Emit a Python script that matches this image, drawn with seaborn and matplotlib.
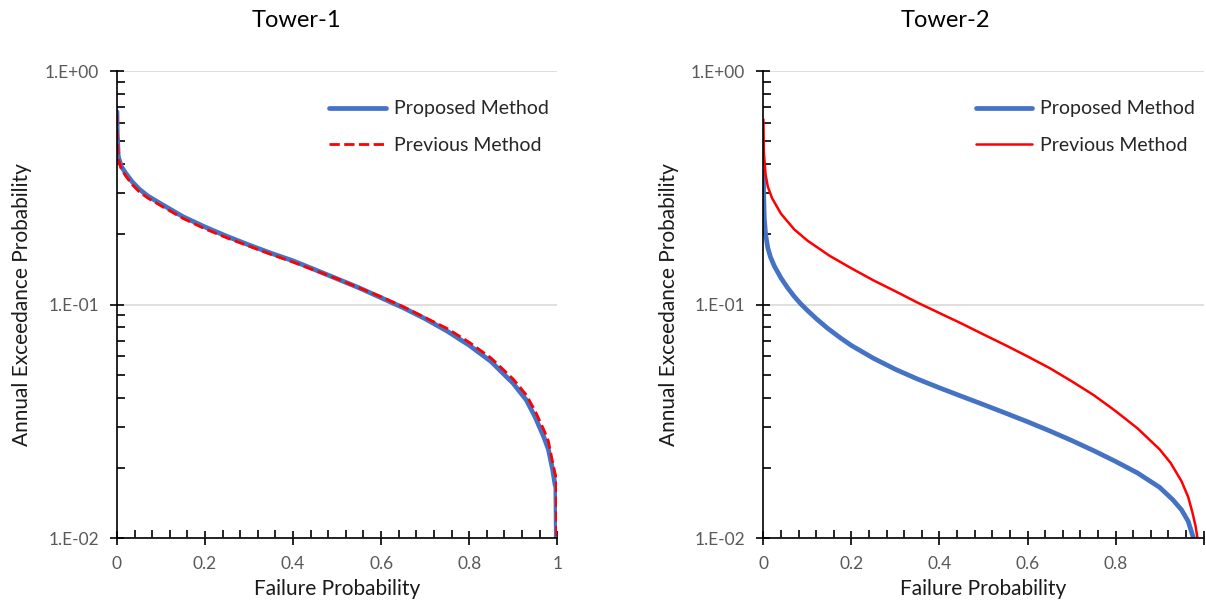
import numpy as np
import pandas as pd
import matplotlib
matplotlib.use("Agg")
import matplotlib.pyplot as plt
import matplotlib.ticker as mticker
from matplotlib.lines import Line2D
import seaborn as sns

# Tower-1 curves (failure probability vs annual exceedance probability)
t1_prop_x = [0, 0.0005, 0.003, 0.01, 0.02, 0.035, 0.05, 0.07, 0.1, 0.15, 0.2, 0.25, 0.3, 0.35,
             0.4, 0.45, 0.5, 0.55, 0.6, 0.65, 0.7, 0.75, 0.8, 0.85, 0.9, 0.93, 0.95, 0.97,
             0.98, 0.99, 0.995, 0.997, 0.998]
t1_prop_y = [0.67, 0.55, 0.43, 0.39, 0.365, 0.335, 0.313, 0.292, 0.27, 0.238, 0.215, 0.196, 0.18,
             0.166, 0.154, 0.141, 0.129, 0.118, 0.107, 0.097, 0.087, 0.077, 0.067, 0.057, 0.046,
             0.039, 0.033, 0.027, 0.024, 0.0195, 0.017, 0.0165, 0.01]
t1_prev_x = [0, 0.0005, 0.003, 0.01, 0.02, 0.035, 0.05, 0.07, 0.1, 0.15, 0.2, 0.25, 0.3, 0.35,
             0.4, 0.45, 0.5, 0.55, 0.6, 0.65, 0.7, 0.75, 0.8, 0.85, 0.9, 0.93, 0.95, 0.97,
             0.98, 0.99, 0.995, 0.998, 0.999]
t1_prev_y = [0.65, 0.53, 0.42, 0.38, 0.355, 0.326, 0.305, 0.286, 0.265, 0.234, 0.211, 0.193, 0.178,
             0.164, 0.152, 0.14, 0.129, 0.118, 0.108, 0.098, 0.088, 0.079, 0.069, 0.059, 0.048,
             0.041, 0.035, 0.029, 0.026, 0.021, 0.019, 0.018, 0.01]

# Tower-2 curves
t2_prop_x = [0, 0.0005, 0.002, 0.005, 0.01, 0.016, 0.025, 0.04, 0.055, 0.07, 0.085, 0.1, 0.12,
             0.145, 0.175, 0.2, 0.25, 0.3, 0.35, 0.4, 0.45, 0.5, 0.55, 0.6, 0.65, 0.7, 0.75,
             0.8, 0.85, 0.9, 0.93, 0.95, 0.965, 0.977]
t2_prop_y = [0.37, 0.3, 0.235, 0.2, 0.175, 0.16, 0.146, 0.13, 0.118, 0.1084, 0.1007, 0.0944,
             0.0871, 0.0794, 0.072, 0.0668, 0.0589, 0.0528, 0.048, 0.044, 0.0405, 0.0373, 0.0343,
             0.0315, 0.0288, 0.0262, 0.0237, 0.0213, 0.019, 0.0165, 0.0146, 0.0132, 0.0118, 0.01]
t2_prev_x = [0, 0.001, 0.005, 0.01, 0.02, 0.04, 0.07, 0.1, 0.15, 0.2, 0.25, 0.3, 0.35, 0.4,
             0.45, 0.5, 0.55, 0.6, 0.65, 0.7, 0.75, 0.8, 0.85, 0.9, 0.925, 0.95, 0.965, 0.975,
             0.982, 0.986]
t2_prev_y = [0.62, 0.45, 0.36, 0.32, 0.285, 0.245, 0.21, 0.188, 0.162, 0.143, 0.127, 0.114, 0.102,
             0.092, 0.083, 0.0745, 0.067, 0.06, 0.0535, 0.047, 0.041, 0.035, 0.0295, 0.024, 0.021,
             0.0175, 0.015, 0.0128, 0.0112, 0.01]

x_ticks = [0, 0.2, 0.4, 0.6, 0.8, 1.0]
y_ticks = [0.01, 0.1, 1.0]

blue = "#4472C4"
red = "#FF0000"

sns.set_style("white")
plt.rcParams['font.family'] = ['Lato', 'DejaVu Sans']

fig = plt.figure(figsize=(12.06, 6.08), dpi=100)
ax1 = fig.add_axes([0.097, 0.115, 0.365, 0.768])
ax2 = fig.add_axes([0.633, 0.115, 0.365, 0.768])

panels = [
    (ax1, "Tower-1", 0.407, (t1_prop_x, t1_prop_y), (t1_prev_x, t1_prev_y), "--", 2.0),
    (ax2, "Tower-2", 0.414, (t2_prop_x, t2_prop_y), (t2_prev_x, t2_prev_y), "-", 1.8),
]

for ax, title, title_x, prop, prev, prev_ls, prev_lw in panels:
    sns.lineplot(x=prop[0], y=prop[1], ax=ax, color=blue, linewidth=3.4, sort=False)
    sns.lineplot(x=prev[0], y=prev[1], ax=ax, color=red, linewidth=prev_lw,
                 linestyle=prev_ls, sort=False)

    ax.set_yscale("log")
    ax.set_ylim(0.01, 1.0)
    ax.set_xlim(0, 1.0)
    ax.set_xticks(x_ticks)
    ax.xaxis.set_major_formatter(mticker.FuncFormatter(lambda v, p: f"{v:g}"))
    ax.xaxis.set_minor_locator(mticker.MultipleLocator(0.04))
    ax.set_yticks(y_ticks)
    ax.yaxis.set_major_formatter(
        mticker.FuncFormatter(lambda v, p: f"1.E{int(round(np.log10(v))):+03d}"))
    ax.yaxis.set_minor_locator(mticker.LogLocator(base=10, subs=np.arange(2, 10)))
    ax.yaxis.set_minor_formatter(mticker.NullFormatter())

    ax.tick_params(which="major", direction="inout", length=10, width=1.2, colors="black",
                   labelcolor="#595959", labelsize=12.5, pad=8)
    ax.tick_params(which="minor", direction="in", length=6, width=1.2, colors="black")
    ax.tick_params(axis="x", which="both", bottom=True)
    ax.tick_params(axis="y", which="both", left=True)

    ax.grid(axis="y", which="major", color="#d9d9d9", linewidth=1.2)
    ax.set_axisbelow(True)
    for s in ["top", "right"]:
        ax.spines[s].set_visible(False)
    for s in ["left", "bottom"]:
        ax.spines[s].set_color("black")
        ax.spines[s].set_linewidth(1.2)

    ax.text(title_x, 1.109, title, transform=ax.transAxes, ha="center", va="center",
            fontsize=17, color="black")
    ax.set_xlabel("Failure Probability", fontsize=15, color="#1a1a1a", labelpad=5)
    ax.set_ylabel("Annual Exceedance Probability", fontsize=15, color="#1a1a1a", labelpad=9)

    handles = [
        Line2D([0], [0], color=blue, linewidth=3.4),
        Line2D([0], [0], color=red, linewidth=prev_lw, linestyle=prev_ls),
    ]
    ax.legend(handles, ["Proposed Method", "Previous Method"], loc="upper right",
              bbox_to_anchor=(1.02, 0.975), frameon=False, fontsize=14,
              labelspacing=1.0, handlelength=2.9, handletextpad=0.4)

# the last x label of the right panel falls outside the picture in the original
ax2.get_xticklabels()[-1].set_visible(False)

fig.savefig("out.png", dpi=100)
